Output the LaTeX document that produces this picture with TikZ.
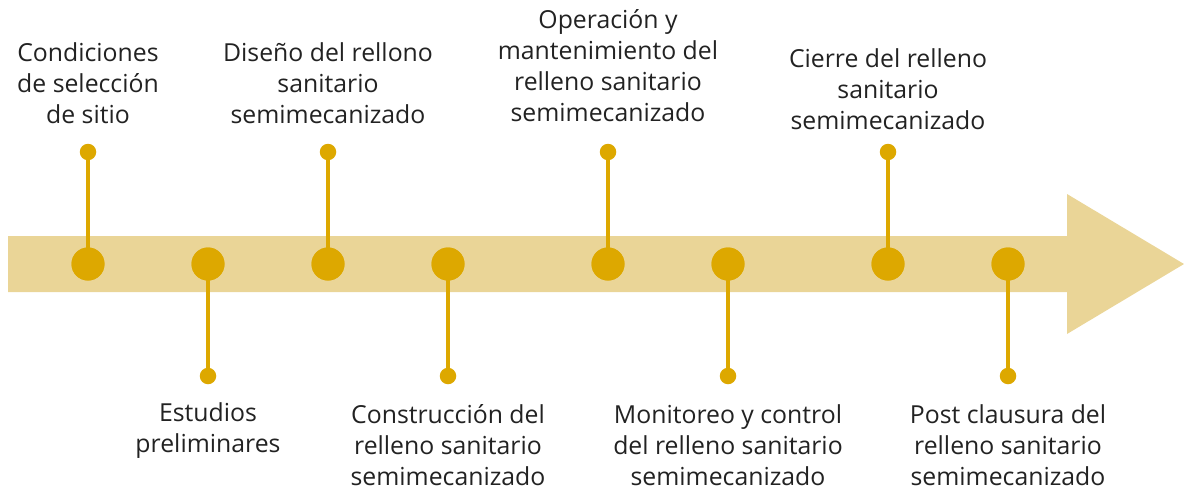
\documentclass[tikz,border=0pt]{standalone}
\usepackage{fontspec}
\setmainfont{Open Sans}
\definecolor{band}{HTML}{EAD597}
\definecolor{gold}{HTML}{DDA800}
\definecolor{txt}{HTML}{222222}
\begin{document}
\begin{tikzpicture}[x=1pt,y=-1pt,
  bigdot/.style={circle,fill=gold,inner sep=0pt,minimum size=33pt},
  smalldot/.style={circle,fill=gold,inner sep=0pt,minimum size=16.5pt},
  stem/.style={draw=gold,line width=4.5pt},
  label/.style={align=center,text=txt,font=\fontsize{24.8}{31}\selectfont,inner sep=0pt}]
\useasboundingbox (0,0) rectangle (1184,490);
\fill[band] (8,236) -- (1067,236) -- (1067,194) -- (1184,264) -- (1067,334) -- (1067,292) -- (8,292) -- cycle;
% top items
\foreach \n/\x in {a/88,c/328,e/608,g/888}{
  \node[smalldot] (\n s) at (\x,152) {};
  \node[bigdot] (\n) at (\x,264) {};
  \draw[stem] (\n s.center) -- (\n.center);
}
\foreach \n/\x in {b/208,d/448,f/728,h/1008}{
  \node[smalldot] (\n s) at (\x,376) {};
  \node[bigdot] (\n) at (\x,264) {};
  \draw[stem] (\n.center) -- (\n s.center);
}
\foreach \n in {a,b,c,d,e,f,g,h}{\node[bigdot] at (\n) {};}
\node[label] (ta) at (88,83) {Condiciones\\de selección\\de sitio};
\node[label] (tc) at (328,83) {Diseño del rellono\\sanitario\\semimecanizado};
\node[label] (te) at (608,66) {Operación y\\mantenimiento del\\relleno sanitario\\semimecanizado};
\node[label] (tg) at (888,89) {Cierre del relleno\\sanitario\\semimecanizado};
\node[label] (tb) at (208,430.5) {Estudios\\preliminares};
\node[label] (td) at (448,445) {Construcción del\\relleno sanitario\\semimecanizado};
\node[label] (tf) at (728,445) {Monitoreo y control\\del relleno sanitario\\semimecanizado};
\node[label] (th) at (1008,445) {Post clausura del\\relleno sanitario\\semimecanizado};
\end{tikzpicture}
\end{document}
